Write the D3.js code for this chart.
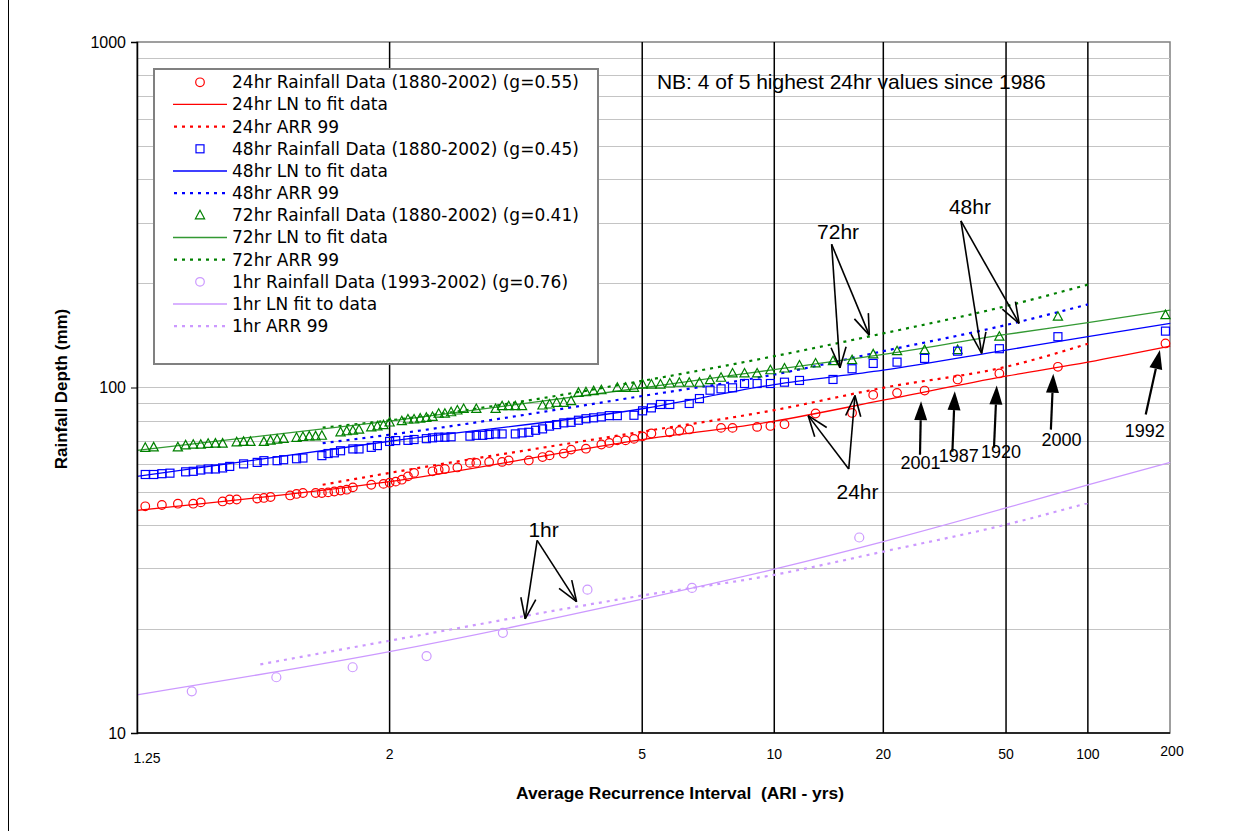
<!DOCTYPE html>
<html>
<head>
<meta charset="utf-8">
<script src="https://cdn.jsdelivr.net/npm/d3@7/dist/d3.min.js"></script>
<style>
  body { margin: 0; background: #fff; }
  text { font-family: "Liberation Sans", Arial, sans-serif; fill: #000; }
  .legend text { font-family: "DejaVu Sans", Verdana, sans-serif; font-size: 17px; }
</style>
</head>
<body>
<svg width="1240" height="831"></svg>
<script>
// ---- data ----
const nYearsDaily = 123;   // 1880-2002
const nYearsHourly = 10;   // 1993-2002

// [rank, depth mm]
const rain24 = [[1,134.1],[2,114.8],[3,109.8],[4,105.5],[5,98.0],[6,96.5],[7,95.2],[8,84.4],[10,84.1],
  [12,78.3],[13,77.4],[14,76.9],[16,76.4],[17,76.4],[20,75.6],[21,74.9],[22,74.2],[24,73.6],[25,72.2],
  [26,71.0],[27,70.3],[28,70.3],[29,69.1],[30,68.4],[32,66.5],[34,66.1],[35,64.4],[37,63.6],[38,62.9],
  [40,61.5],[43,61.5],[44,60.9],[46,60.9],[48,60.5],[49,60.5],[51,58.7],[53,58.1],[54,57.8],[55,57.2],
  [58,56.6],[59,55.3],[60,54.1],[61,53.4],[62,53.0],[63,52.6],[65,52.3],[68,51.4],[69,50.6],[70,50.3],
  [71,50.0],[72,49.7],[73,49.5],[74,49.5],[76,49.5],[77,49.2],[78,48.7],[81,48.2],[82,47.9],[83,47.7],
  [86,47.4],[87,47.4],[88,46.8],[91,46.5],[92,46.1],[94,46.1],[96,45.7],[98,45.3]];

const rain48 = [[1,145.6],[2,140.3],[3,129.5],[4,127.4],[5,121.4],[6,118.4],[7,117.4],[8,113.3],[9,105.5],
  [11,104.8],[12,103.6],[13,102.7],[14,102.7],[15,102.7],[16,99.8],[17,99.1],[18,98.2],[19,92.9],[20,89.9],
  [22,89.3],[23,89.3],[24,87.3],[25,85.6],[26,83.1],[28,82.9],[29,82.9],[30,82.2],[31,81.7],[32,81.2],
  [33,80.4],[34,79.3],[35,79.0],[36,78.1],[37,77.3],[38,75.9],[39,75.2],[40,74.2],[41,73.9],[42,73.4],
  [44,73.4],[45,73.4],[46,73.1],[47,72.7],[48,72.7],[49,72.3],[52,72.0],[53,71.8],[54,71.8],[55,71.5],
  [56,71.1],[58,70.7],[59,70.3],[61,70.2],[62,69.8],[64,67.9],[65,67.1],[67,66.4],[68,66.4],[70,65.6],
  [71,64.7],[72,64.4],[73,63.5],[76,62.5],[77,62.2],[79,61.8],[80,61.4],[82,61.4],[83,60.7],[85,60.1],
  [87,59.1],[88,58.5],[89,58.1],[90,58.1],[91,57.7],[92,57.2],[93,57.0],[95,56.5],[96,56.3],[97,56.0],[98,56.0]];

const rain72 = [[1,162.0],[2,160.3],[3,140.3],[4,128.3],[5,128.3],[6,127.4],[7,124.7],[8,120.0],[9,119.2],
  [10,117.4],[11,115.8],[12,113.5],[13,112.2],[14,109.8],[15,109.8],[16,109.8],[17,106.7],[18,105.0],
  [19,103.2],[20,103.2],[21,103.2],[22,102.7],[23,102.0],[24,102.0],[25,102.0],[26,99.8],[27,99.8],
  [28,99.8],[30,98.2],[31,97.6],[32,96.9],[33,96.5],[34,91.3],[35,90.3],[36,90.3],[37,89.3],[38,88.7],
  [41,88.3],[42,88.3],[43,88.3],[44,88.3],[45,86.7],[48,86.7],[50,86.7],[51,85.8],[52,84.8],[53,84.0],
  [54,84.0],[55,82.2],[56,81.7],[57,81.3],[58,80.8],[59,80.8],[60,79.9],[62,79.2],[63,77.8],[64,77.2],
  [65,76.7],[67,75.5],[68,75.0],[69,74.7],[70,74.2],[73,72.5],[74,72.2],[75,72.2],[76,71.9],[77,71.5],
  [79,71.0],[80,70.7],[81,70.2],[82,69.6],[84,69.6],[85,69.6],[86,69.4],[88,68.8],[89,68.8],[90,68.7],
  [91,68.3],[92,68.3],[93,68.0],[94,67.1],[97,67.1],[98,66.9]];

const rain1 = [[1,36.8],[2,26.3],[3,26.0],[4,19.5],[5,16.7],[6,15.5],[7,14.5],[8,13.2]];

// fitted log-normal curves, read at these ARIs
const fitAri = [1.25, 2, 5, 10, 20, 50, 100, 215];
const fit24 = [44.1, 53.4, 70.7, 79.9, 91.9, 107.8, 118.4, 131.7];
const fit48 = [55.3, 69.9, 86.8, 102.0, 112.2, 128.3, 140.3, 153.3];
const fit72 = [65.8, 79.9, 99.8, 112.7, 124.7, 142.4, 154.0, 167.5];
const fit1 = [12.9, 17.2, 24.4, 29.8, 35.8, 44.8, 52.3, 60.7];

// ARR 99 design values
const arrAri = [1.7, 2, 5, 10, 20, 50, 100];
const arr24 = [52.3, 56.6, 74.5, 86.0, 99.8, 114.8, 133.8];
const arr48 = [69.0, 73.0, 94.5, 109.0, 127.4, 151.7, 174.0];
const arr72 = [76.5, 80.3, 104.5, 123.2, 143.4, 172.0, 198.5];
const arrAri1 = [1.5, 2, 5, 10, 20, 50, 100];
const arr1 = [15.8, 18.5, 25.0, 28.7, 33.5, 40.1, 46.3];

const xTicks = [1.25, 2, 5, 10, 20, 50, 100, 200];
const yTicks = [10, 100, 1000];
const verticalAri = [2, 5, 10, 20, 50, 100];

// annotations in data units [ARI, mm]
const hrLabels = [
  { text: "72hr", at: [14.8, 268.5], from: [14.2, 259.7], tips: [[14.98, 114.0], [18.18, 141.8]] },
  { text: "48hr", at: [37.6, 317.2], from: [35.1, 303.4], tips: [[41.2, 125.5], [55.6, 153.3]] },
  { text: "24hr", at: [16.8, 47.7], from: [15.86, 58.1], tips: [[12.26, 82.9], [16.52, 94.8]] },
  { text: "1hr", at: [3.29, 37.0], from: [3.21, 36.1], tips: [[3.07, 21.4], [3.75, 24.0]] }
];
const yearLabels = [
  { text: "2001", at: [26.0, 58.2], from: [25.9, 63.9], tip: [26.1, 91.3] },
  { text: "1987", at: [34.5, 60.7], from: [32.9, 65.2], tip: [33.5, 97.6] },
  { text: "1920", at: [48.0, 62.7], from: [45.4, 67.0], tip: [46.4, 101.3] },
  { text: "2000", at: [79.4, 67.9], from: [72.5, 75.5], tip: [74.0, 109.6] },
  { text: "1992", at: [168.6, 72.1], from: [170, 83.5], tip: [194.6, 128.3] }
];
const note = { text: "NB: 4 of 5 highest 24hr values since 1986", at: [5.36, 730.9] };

// ---- scales ----
function normInv(p) {
  const a = [-39.69683028665376, 220.9460984245205, -275.9285104469687, 138.357751867269, -30.66479806614716, 2.506628277459239];
  const b = [-54.47609879822406, 161.5858368580409, -155.6989798598866, 66.80131188771972, -13.28068155288572];
  const c = [-0.007784894002430293, -0.3223964580411365, -2.400758277161838, -2.549732539343734, 4.374664141464968, 2.938163982698783];
  const d = [0.007784695709041462, 0.3224671290700398, 2.445134137142996, 3.754408661907416];
  const lo = 0.02425;
  let q, r;
  if (p < lo) {
    q = Math.sqrt(-2 * Math.log(p));
    return (((((c[0]*q+c[1])*q+c[2])*q+c[3])*q+c[4])*q+c[5]) / ((((d[0]*q+d[1])*q+d[2])*q+d[3])*q+1);
  }
  if (p <= 1 - lo) {
    q = p - 0.5; r = q * q;
    return (((((a[0]*r+a[1])*r+a[2])*r+a[3])*r+a[4])*r+a[5])*q / (((((b[0]*r+b[1])*r+b[2])*r+b[3])*r+b[4])*r+1);
  }
  q = Math.sqrt(-2 * Math.log(1 - p));
  return -(((((c[0]*q+c[1])*q+c[2])*q+c[3])*q+c[4])*q+c[5]) / ((((d[0]*q+d[1])*q+d[2])*q+d[3])*q+1);
}
const zOf = (ari) => normInv(1 - 1 / ari);
const plotLeft = 137, plotRight = 1170, plotTop = 42, plotBottom = 733;
const xz = d3.scaleLinear().domain([zOf(1.25), 2.6]).range([plotLeft, plotRight]);
const x = (ari) => xz(zOf(ari));
const y = d3.scaleLog().domain([10, 1000]).range([plotBottom, plotTop]);
const ariOf = (rank, n) => (n + 0.2) / (rank - 0.4);   // Cunnane plotting position

const svg = d3.select("svg");

// outer frame
svg.append("line").attr("x1", 8.5).attr("x2", 8.5).attr("y1", 0).attr("y2", 831)
  .attr("stroke", "#000").attr("stroke-width", 1);

// plot area
const plot = svg.append("g");
plot.append("rect").attr("x", plotLeft).attr("y", plotTop)
  .attr("width", plotRight - plotLeft).attr("height", plotBottom - plotTop)
  .attr("fill", "#fff").attr("stroke", "#808080").attr("stroke-width", 1.5);

// horizontal grid
const grid = y.ticks().filter((v) => v > 10 && v < 1000);
plot.selectAll(".hgrid").data(grid).enter().append("line")
  .attr("x1", plotLeft).attr("x2", plotRight)
  .attr("y1", (d) => Math.round(y(d)) + 0.5).attr("y2", (d) => Math.round(y(d)) + 0.5)
  .attr("stroke", "#c4c4c4").attr("stroke-width", 1);

// vertical ARI lines
plot.selectAll(".vgrid").data(verticalAri).enter().append("line")
  .attr("x1", (d) => x(d)).attr("x2", (d) => x(d))
  .attr("y1", plotTop).attr("y2", plotBottom)
  .attr("stroke", "#000").attr("stroke-width", 1.5);

// axes
const yAxis = d3.axisLeft(y).tickValues(yTicks).tickSize(6).tickFormat(d3.format("d"));
const yG = svg.append("g").attr("transform", `translate(${plotLeft},0)`).call(yAxis);
yG.select(".domain").attr("stroke", "#000").attr("stroke-width", 1.5);
yG.selectAll("text").attr("font-size", 16).attr("dx", -2).style("font-family", "Liberation Sans, Arial");

svg.append("line").attr("x1", plotLeft).attr("x2", plotRight)
  .attr("y1", plotBottom).attr("y2", plotBottom).attr("stroke", "#000").attr("stroke-width", 1.5);

svg.selectAll(".xlab").data(xTicks).enter().append("text")
  .attr("x", (d) => (d === 1.25 ? x(d) + 10 : d === 200 ? plotRight + 2 : x(d)))
  .attr("y", (d) => (d === 1.25 ? 763 : d === 200 ? 756 : 759))
  .attr("text-anchor", "middle").attr("font-size", 14)
  .text((d) => d);

svg.append("text").attr("x", 680).attr("y", 799).attr("text-anchor", "middle")
  .attr("font-size", 17.4).attr("font-weight", "bold").style("white-space", "pre")
  .text("Average Recurrence Interval  (ARI - yrs)");
svg.append("text").attr("transform", "translate(67,389) rotate(-90)")
  .attr("text-anchor", "middle").attr("font-size", 17).attr("font-weight", "bold")
  .text("Rainfall Depth (mm)");

// ---- lines ----
const lineGen = d3.line().x((d) => x(d[0])).y((d) => y(d[1])).curve(d3.curveMonotoneX);
const zip = (xs, ys) => xs.map((v, i) => [v, ys[i]]);
const solid = [[fit24, "#ff0000"], [fit48, "#0000ff"], [fit72, "#339933"], [fit1, "#cc99ff"]];
const dotted = [[arrAri, arr24, "#ff0000"], [arrAri, arr48, "#0000ff"], [arrAri, arr72, "#008000"], [arrAri1, arr1, "#cc99ff"]];

dotted.forEach(([xs, ys, c]) => {
  plot.append("path").attr("d", lineGen(zip(xs, ys))).attr("fill", "none")
    .attr("stroke", c).attr("stroke-width", 2.2).attr("stroke-dasharray", "3,5");
});
solid.forEach(([ys, c]) => {
  plot.append("path").attr("d", lineGen(zip(fitAri, ys))).attr("fill", "none")
    .attr("stroke", c).attr("stroke-width", 1.3);
});

// ---- points ----
const trianglePath = "M0,-5L4.6,3.5L-4.6,3.5Z";
plot.selectAll(".p72").data(rain72).enter().append("path")
  .attr("d", trianglePath).attr("fill", "none").attr("stroke", "#008000").attr("stroke-width", 1.2)
  .attr("transform", (d) => `translate(${x(ariOf(d[0], nYearsDaily))},${y(d[1])})`);
plot.selectAll(".p48").data(rain48).enter().append("rect")
  .attr("width", 8).attr("height", 8).attr("fill", "none").attr("stroke", "#0000ff").attr("stroke-width", 1.2)
  .attr("x", (d) => x(ariOf(d[0], nYearsDaily)) - 4).attr("y", (d) => y(d[1]) - 4);
plot.selectAll(".p24").data(rain24).enter().append("circle")
  .attr("r", 4.3).attr("fill", "none").attr("stroke", "#ff0000").attr("stroke-width", 1.2)
  .attr("cx", (d) => x(ariOf(d[0], nYearsDaily))).attr("cy", (d) => y(d[1]));
plot.selectAll(".p1").data(rain1).enter().append("circle")
  .attr("r", 4.5).attr("fill", "none").attr("stroke", "#cc99ff").attr("stroke-width", 1.2)
  .attr("cx", (d) => x(ariOf(d[0], nYearsHourly))).attr("cy", (d) => y(d[1]));

// ---- annotations ----
const px = (p) => [x(p[0]), y(p[1])];
const ann = svg.append("g");
hrLabels.forEach((a) => {
  const [tx, ty] = px(a.at);
  ann.append("text").attr("x", tx).attr("y", ty).attr("text-anchor", "middle")
    .attr("font-size", 21).text(a.text);
  const [fx, fy] = px(a.from);
  a.tips.forEach((t) => {
    const [ex, ey] = px(t);
    ann.append("line").attr("x1", fx).attr("y1", fy).attr("x2", ex).attr("y2", ey)
      .attr("stroke", "#000").attr("stroke-width", 1.6);
    const ang = Math.atan2(fy - ey, fx - ex);
    [-0.35, 0.35].forEach((da) => {
      ann.append("line").attr("x1", ex).attr("y1", ey)
        .attr("x2", ex + 22 * Math.cos(ang + da)).attr("y2", ey + 22 * Math.sin(ang + da))
        .attr("stroke", "#000").attr("stroke-width", 1.6);
    });
  });
});
yearLabels.forEach((a) => {
  const [tx, ty] = px(a.at);
  ann.append("text").attr("x", tx).attr("y", ty).attr("text-anchor", "middle")
    .attr("font-size", 18).text(a.text);
  const [fx, fy] = px(a.from);
  const [ex, ey] = px(a.tip);
  const ang = Math.atan2(ey - fy, ex - fx);
  const bx = ex - 19 * Math.cos(ang), by = ey - 19 * Math.sin(ang);
  ann.append("line").attr("x1", fx).attr("y1", fy).attr("x2", bx).attr("y2", by)
    .attr("stroke", "#000").attr("stroke-width", 2.2);
  const nx = -Math.sin(ang) * 6.5, ny = Math.cos(ang) * 6.5;
  ann.append("path").attr("d", `M${ex},${ey}L${bx + nx},${by + ny}L${bx - nx},${by - ny}Z`).attr("fill", "#000");
});
{
  const [tx, ty] = px(note.at);
  ann.append("text").attr("x", tx).attr("y", ty).attr("font-size", 21).text(note.text);
}

// ---- legend ----
const legendItems = [
  { label: "24hr Rainfall Data (1880-2002) (g=0.55)", kind: "circle", color: "#ff0000" },
  { label: "24hr LN to fit data", kind: "solid", color: "#ff0000" },
  { label: "24hr ARR 99", kind: "dot", color: "#ff0000" },
  { label: "48hr Rainfall Data (1880-2002) (g=0.45)", kind: "square", color: "#0000ff" },
  { label: "48hr LN to fit data", kind: "solid", color: "#0000ff" },
  { label: "48hr ARR 99", kind: "dot", color: "#0000ff" },
  { label: "72hr Rainfall Data (1880-2002) (g=0.41)", kind: "triangle", color: "#008000" },
  { label: "72hr LN to fit data", kind: "solid", color: "#339933" },
  { label: "72hr ARR 99", kind: "dot", color: "#008000" },
  { label: "1hr Rainfall Data (1993-2002) (g=0.76)", kind: "circle", color: "#cc99ff" },
  { label: "1hr LN fit to data", kind: "solid", color: "#cc99ff" },
  { label: "1hr ARR 99", kind: "dot", color: "#cc99ff" }
];
const legend = svg.append("g").attr("class", "legend");
legend.append("rect").attr("x", 154).attr("y", 69).attr("width", 444).attr("height", 295)
  .attr("fill", "#fff").attr("stroke", "#808080").attr("stroke-width", 2);
legendItems.forEach((it, i) => {
  const cy = 82.3 + i * 22.17;
  const g = legend.append("g").attr("transform", `translate(0,${cy})`);
  if (it.kind === "circle") g.append("circle").attr("cx", 200).attr("r", 4.3).attr("fill", "none").attr("stroke", it.color).attr("stroke-width", 1.2);
  if (it.kind === "square") g.append("rect").attr("x", 196).attr("y", -4).attr("width", 8).attr("height", 8).attr("fill", "none").attr("stroke", it.color).attr("stroke-width", 1.2);
  if (it.kind === "triangle") g.append("path").attr("d", trianglePath).attr("transform", "translate(200,0)").attr("fill", "none").attr("stroke", it.color).attr("stroke-width", 1.2);
  if (it.kind === "solid") g.append("line").attr("x1", 173).attr("x2", 227).attr("stroke", it.color).attr("stroke-width", 1.3);
  if (it.kind === "dot") g.append("line").attr("x1", 174).attr("x2", 227).attr("stroke", it.color).attr("stroke-width", 2.2).attr("stroke-dasharray", "3,5");
  g.append("text").attr("x", 232).attr("y", 6).text(it.label);
});
</script>
</body>
</html>
